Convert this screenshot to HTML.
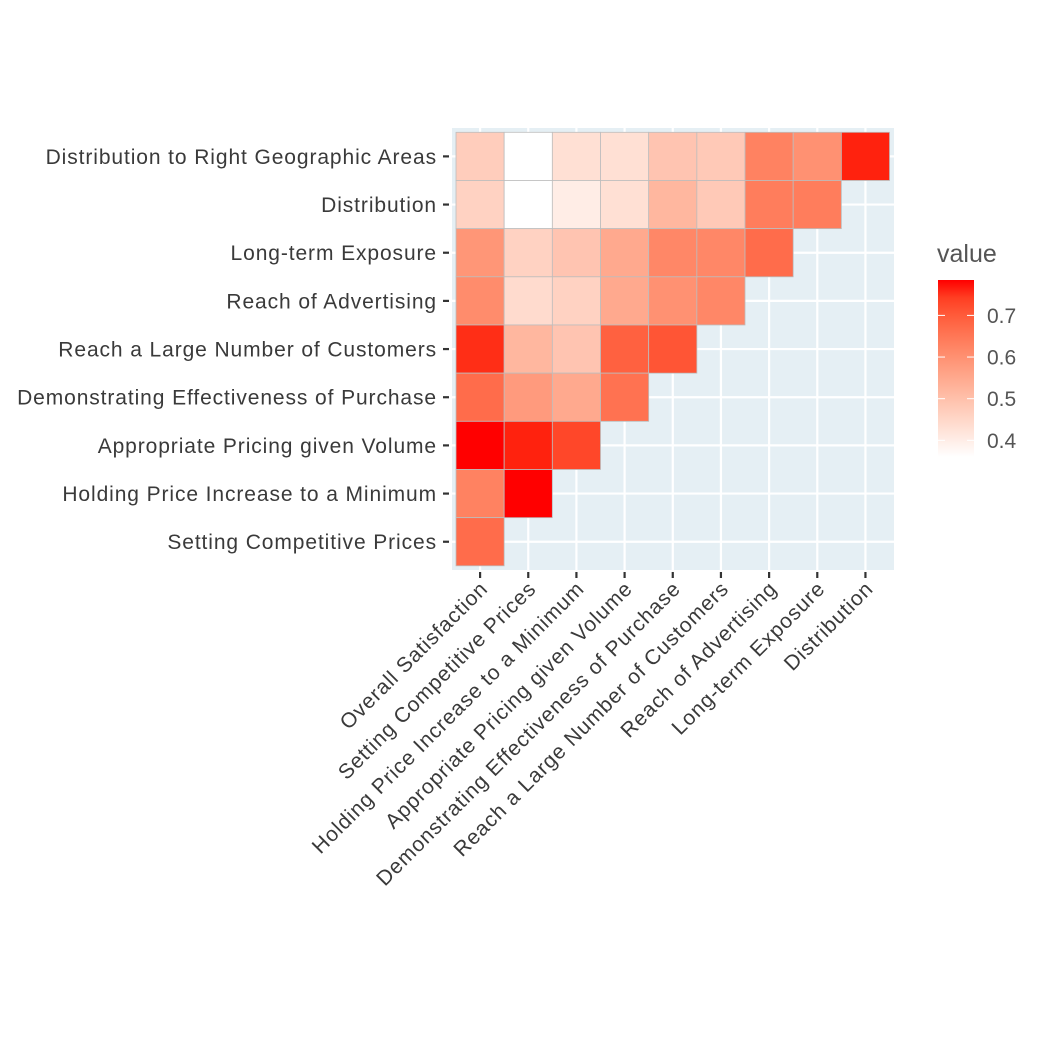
<!DOCTYPE html>
<html><head><meta charset="utf-8"><style>
html,body{margin:0;padding:0;background:#fff;}
svg{display:block;font-family:"Liberation Sans",sans-serif;}
</style></head><body>
<svg id="chart" width="1050" height="1050" viewBox="0 0 1050 1050" xmlns="http://www.w3.org/2000/svg">
<rect x="0" y="0" width="1050" height="1050" fill="#fff"/>
<g id="panel"></g>
<g id="cells"></g>
<g id="axes"></g>
<g id="legend"></g>
</svg>
<script>
const xCats = ["Overall Satisfaction","Setting Competitive Prices","Holding Price Increase to a Minimum","Appropriate Pricing given Volume","Demonstrating Effectiveness of Purchase","Reach a Large Number of Customers","Reach of Advertising","Long-term Exposure","Distribution"];
const yCats = ["Distribution to Right Geographic Areas","Distribution","Long-term Exposure","Reach of Advertising","Reach a Large Number of Customers","Demonstrating Effectiveness of Purchase","Appropriate Pricing given Volume","Holding Price Increase to a Minimum","Setting Competitive Prices"];
const rowDRGA = [0.47,0.36,0.43,0.43,0.49,0.48,0.63,0.60,0.77];
const rowDistribution = [0.46,0.36,0.40,0.43,0.52,0.48,0.64,0.64];
const rowLongTerm = [0.59,0.46,0.49,0.55,0.62,0.62,0.67];
const rowReachAdv = [0.61,0.44,0.46,0.55,0.60,0.62];
const rowReachLarge = [0.76,0.52,0.49,0.69,0.71];
const rowDemonstrating = [0.67,0.58,0.55,0.66];
const rowAppropriate = [0.785,0.77,0.73];
const rowHolding = [0.63,0.785];
const rowSetting = [0.67];
const legendTicks = [0.4,0.5,0.6,0.7];
const vMin = 0.36, vMax = 0.785;

const rows = [rowDRGA,rowDistribution,rowLongTerm,rowReachAdv,rowReachLarge,rowDemonstrating,rowAppropriate,rowHolding,rowSetting];
const NS="http://www.w3.org/2000/svg";
function mk(tag,attrs,parent){const e=document.createElementNS(NS,tag);for(const k in attrs)e.setAttribute(k,attrs[k]);parent.appendChild(e);return e;}
const X0=456, Y0=132.3, CW=48.17, CH=48.17;
const xScale=i=>X0+i*CW;
const yScale=j=>Y0+j*CH;
function lab2rgb(L,a,b){let y=(L+16)/116,x=a/500+y,z=y-b/200;
const f=t=>t*t*t>0.008856?t*t*t:(t-16/116)/7.787;
x=0.95047*f(x);y=f(y);z=1.08883*f(z);
let r=x*3.2406+y*-1.5372+z*-0.4986,g=x*-0.9689+y*1.8758+z*0.0415,bb=x*0.0557+y*-0.2040+z*1.0570;
const c=v=>{v=v>0.0031308?1.055*Math.pow(v,1/2.4)-0.055:12.92*v;return Math.max(0,Math.min(255,Math.round(v*255)));};
return `rgb(${c(r)},${c(g)},${c(bb)})`;}
function color(v){let t=(v-vMin)/(vMax-vMin);t=Math.max(0,Math.min(1,t));
return lab2rgb(100+(53.24-100)*t,0+80.09*t,0+67.2*t);}

const panel=document.getElementById('panel');
let p=mk('rect',{x:452,y:128,width:442,height:442,fill:'#E5EFF4'},panel);


for(let i=0;i<9;i++){
 const cx=xScale(i)+CW/2;
 let g=mk('line',{x1:cx,x2:cx,y1:128,y2:570,stroke:'#fff','stroke-width':2.2},panel);
 
 
 const cy=yScale(i)+CH/2;
 g=mk('line',{x1:452,x2:894,y1:cy,y2:cy,stroke:'#fff','stroke-width':2.2},panel);
 
 
}
const cells=document.getElementById('cells');
rows.forEach((row,j)=>{row.forEach((v,i)=>{
 const r=mk('rect',{x:xScale(i),y:yScale(j),width:CW,height:CH,fill:color(v),stroke:'#bdbdbd','stroke-width':0.8},cells);
 
 
});});
const axes=document.getElementById('axes');
yCats.forEach((c,j)=>{
 const cy=yScale(j)+CH/2;
 const t=mk('line',{x1:443,x2:449,y1:cy,y2:cy,stroke:'#333','stroke-width':2.2},axes);
 
 
 const tx=mk('text',{x:437,y:cy+7.5,'text-anchor':'end','font-size':21,'letter-spacing':0.9,fill:'#3a3a3a'},axes);
 tx.textContent=c;
 
 
});
xCats.forEach((c,i)=>{
 const cx=xScale(i)+CW/2;
 const t=mk('line',{x1:cx,x2:cx,y1:572,y2:578,stroke:'#333','stroke-width':2.2},axes);
 
 
 const ax=cx+9, ay=590;
 const tx=mk('text',{x:ax,y:ay,'text-anchor':'end','font-size':21,'letter-spacing':0.9,fill:'#3a3a3a',transform:`rotate(-45 ${ax} ${ay})`},axes);
 tx.textContent=c;
 
 
});
const lg=document.getElementById('legend');
const defs=mk('defs',{},lg);
const grad=mk('linearGradient',{id:'lgGrad',x1:0,y1:1,x2:0,y2:0},defs);
for(let k=0;k<=10;k++){const v=vMin+(vMax-vMin)*k/10;mk('stop',{offset:k/10,'stop-color':color(v)},grad);}
const lt=mk('text',{x:937,y:262,'font-size':25,fill:'#555'},lg);
lt.textContent='value';


const LB=457, LT=280;
const ly=v=>LB-(v-vMin)/(vMax-vMin)*(LB-LT);
const bar=mk('rect',{x:938,y:LT,width:36,height:LB-LT,fill:'url(#lgGrad)'},lg);


legendTicks.forEach(v=>{
 const y=ly(v);
 let l=mk('line',{x1:938,x2:945,y1:y,y2:y,stroke:'#fff','stroke-width':1},lg);
 
 
 l=mk('line',{x1:967,x2:974,y1:y,y2:y,stroke:'#fff','stroke-width':1},lg);
 
 
 const tx=mk('text',{x:987,y:y+7.5,'font-size':21,fill:'#555'},lg);
 tx.textContent=v.toFixed(1);
 
 
});
</script>
</body></html>
